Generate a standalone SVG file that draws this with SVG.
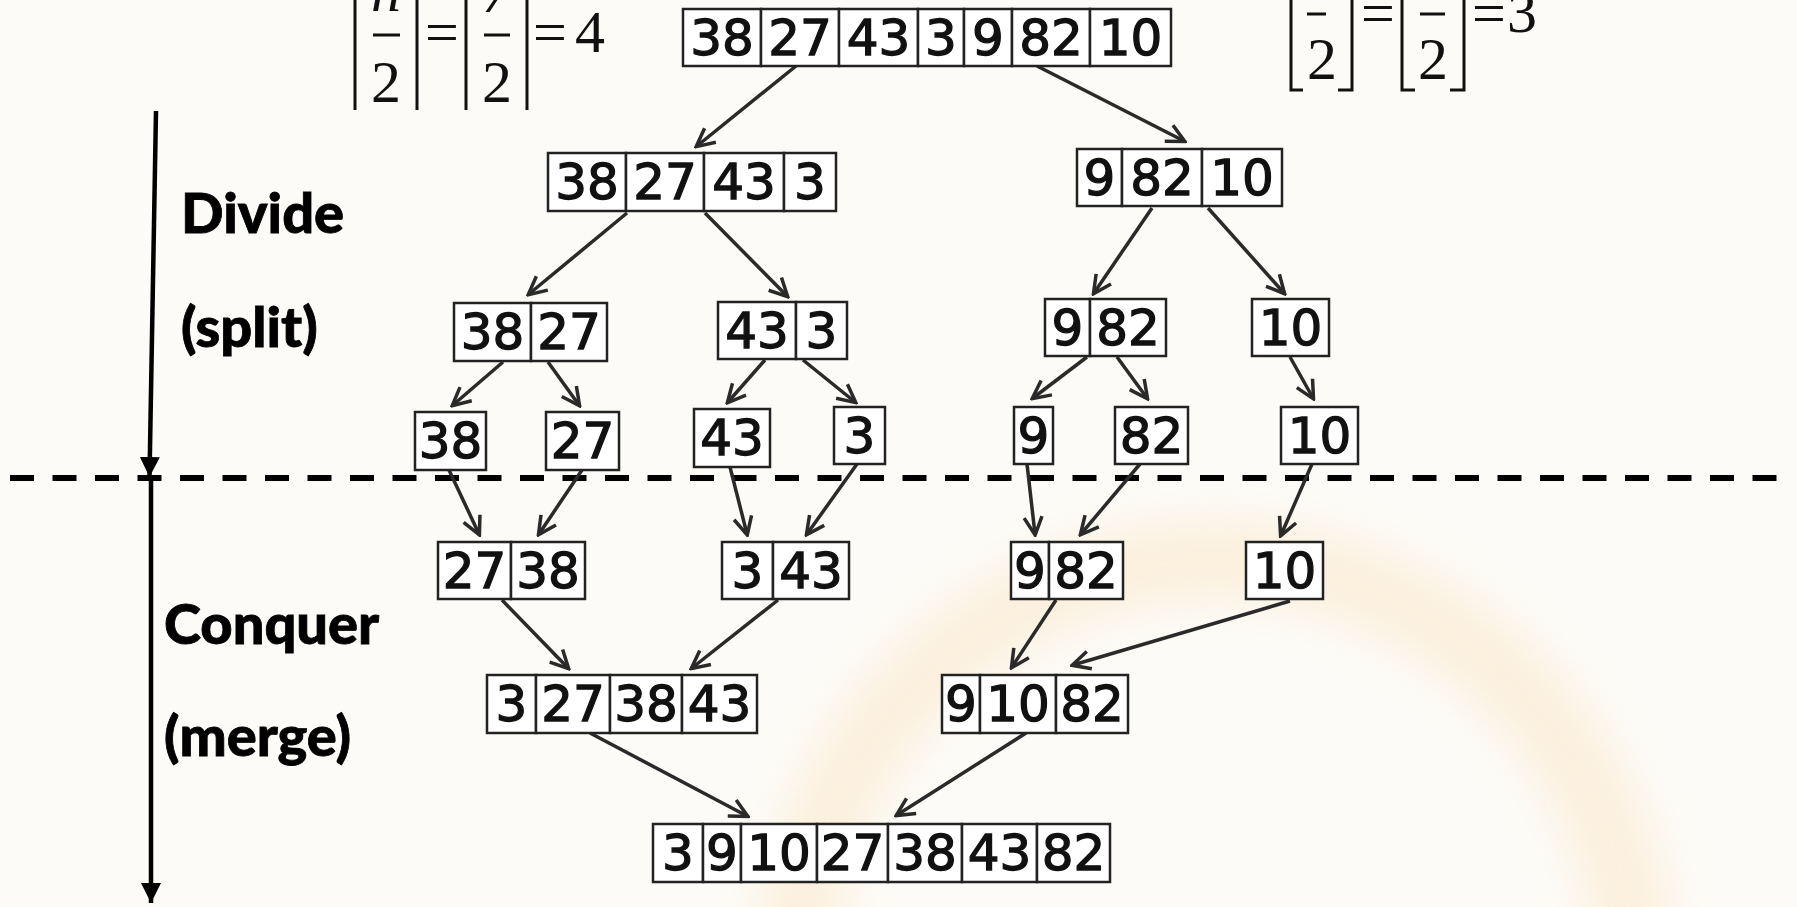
<svg xmlns="http://www.w3.org/2000/svg" width="1797" height="907" viewBox="0 0 1797 907">
<defs>
<style>
.c{fill:#ffffff;stroke:#222;stroke-width:2.5}
.n{font-family:"DejaVu Sans",sans-serif;font-size:50px;fill:#111;stroke:#111;stroke-width:1.3;text-anchor:middle}
.lbl{font-family:Lato,"Open Sans",sans-serif;font-weight:900;font-size:56px;fill:#000;stroke:#000;stroke-width:0.8}
.m{font-family:"Liberation Serif",serif;font-size:60px;fill:#111;text-anchor:middle}
.br{stroke:#111;stroke-width:3;fill:none}
.a{stroke:#2a2a2a;stroke-width:3.5;fill:none;marker-end:url(#ah)}
.va{stroke:#000;stroke-width:4.5;fill:none;marker-end:url(#vh)}
</style>
<marker id="ah" viewBox="0 0 22 22" refX="19" refY="11" markerWidth="22" markerHeight="22" markerUnits="userSpaceOnUse" orient="auto">
<path d="M2,2 L20,11 L2,20" fill="none" stroke="#2a2a2a" stroke-width="3.5"/>
</marker>
<marker id="vh" viewBox="0 0 20 20" refX="20" refY="10" markerWidth="20" markerHeight="20" markerUnits="userSpaceOnUse" orient="auto">
<path d="M0,0 L20,10 L0,20 z" fill="#000"/>
</marker>
<filter id="blur" x="-20%" y="-20%" width="140%" height="140%"><feGaussianBlur stdDeviation="22"/></filter>
</defs>
<rect width="1797" height="907" fill="#fcfbf7"/>
<circle cx="1215" cy="980" r="420" fill="none" stroke="#fbe2bd" stroke-width="80" opacity="0.45" filter="url(#blur)"/>

<g id="formula-left">
<line class="br" x1="355" y1="-5" x2="355" y2="110"/>
<line class="br" x1="417" y1="-5" x2="417" y2="110"/>
<line class="br" x1="466" y1="-5" x2="466" y2="110"/>
<line class="br" x1="527" y1="-5" x2="527" y2="110"/>
<line class="br" x1="373" y1="35" x2="400" y2="35"/>
<line class="br" x1="484" y1="35" x2="510" y2="35"/>
<text class="m" x="386" y="11" font-style="italic">n</text>
<text class="m" x="386" y="102">2</text>
<text class="m" x="442" y="52">=</text>
<text class="m" x="497" y="12" font-style="italic">7</text>
<text class="m" x="497" y="102">2</text>
<text class="m" x="550" y="52">=</text>
<text class="m" x="590" y="52">4</text>
</g>

<g id="formula-right">
<path class="br" d="M1291,-5 V90 H1303"/>
<path class="br" d="M1352,-5 V90 H1338"/>
<path class="br" d="M1402,-5 V90 H1415"/>
<path class="br" d="M1464,-5 V90 H1450"/>
<line class="br" x1="1307" y1="14" x2="1326" y2="14"/>
<line class="br" x1="1420" y1="14" x2="1445" y2="14"/>
<text class="m" x="1322" y="79" font-size="55">2</text>
<text class="m" x="1433" y="79" font-size="55">2</text>
<text class="m" x="1378" y="33" font-size="55">=</text>
<text class="m" x="1489" y="33" font-size="55">=</text>
<text class="m" x="1522" y="32" font-size="55">3</text>
</g>

<g id="labels">
<text class="lbl" x="181" y="233">Divide</text>
<text class="lbl" x="181" y="347">(split)</text>
<text class="lbl" x="164" y="644">Conquer</text>
<text class="lbl" x="164" y="756">(merge)</text>
</g>

<g id="phase-axis">
<line x1="0" y1="478" x2="1790" y2="478" stroke="#000" stroke-width="6" stroke-dasharray="24 18.5" stroke-dashoffset="-10"/>
<line class="va" x1="156" y1="111" x2="149.5" y2="477"/>
<line class="va" x1="151" y1="481" x2="151" y2="903"/>
</g>

<g id="connectors">
<line class="a" x1="796" y1="66" x2="697" y2="146"/>
<line class="a" x1="1037" y1="66" x2="1184" y2="141"/>
<line class="a" x1="627" y1="213" x2="529" y2="294"/>
<line class="a" x1="705" y1="213" x2="787" y2="296"/>
<line class="a" x1="1152" y1="208" x2="1094" y2="293"/>
<line class="a" x1="1208" y1="208" x2="1284" y2="293"/>
<line class="a" x1="503" y1="362" x2="453" y2="405"/>
<line class="a" x1="548" y1="362" x2="579" y2="405"/>
<line class="a" x1="765" y1="360" x2="728" y2="402"/>
<line class="a" x1="803" y1="360" x2="855" y2="402"/>
<line class="a" x1="1087" y1="357" x2="1033" y2="398"/>
<line class="a" x1="1117" y1="357" x2="1147" y2="398"/>
<line class="a" x1="1290" y1="357" x2="1313" y2="398"/>
<line class="a" x1="449" y1="470" x2="479" y2="534"/>
<line class="a" x1="582" y1="470" x2="539" y2="534"/>
<line class="a" x1="730" y1="467" x2="747" y2="534"/>
<line class="a" x1="857" y1="464" x2="807" y2="534"/>
<line class="a" x1="1027" y1="464" x2="1035" y2="534"/>
<line class="a" x1="1140" y1="464" x2="1081" y2="534"/>
<line class="a" x1="1312" y1="464" x2="1281" y2="535"/>
<line class="a" x1="502" y1="600" x2="568" y2="668"/>
<line class="a" x1="778" y1="600" x2="692" y2="668"/>
<line class="a" x1="1056" y1="600" x2="1012" y2="667"/>
<line class="a" x1="1290" y1="601" x2="1073" y2="665"/>
<line class="a" x1="590" y1="733" x2="747" y2="816"/>
<line class="a" x1="1026" y1="733" x2="897" y2="815"/>
</g>

<g id="n-top">
<rect class="c" x="683" y="9" width="78" height="57"/><text class="n" x="722" y="55">38</text>
<rect class="c" x="761" y="9" width="78" height="57"/><text class="n" x="800" y="55">27</text>
<rect class="c" x="839" y="9" width="79" height="57"/><text class="n" x="878.5" y="55">43</text>
<rect class="c" x="918" y="9" width="46" height="57"/><text class="n" x="941" y="55">3</text>
<rect class="c" x="964" y="9" width="48" height="57"/><text class="n" x="988" y="55">9</text>
<rect class="c" x="1012" y="9" width="78" height="57"/><text class="n" x="1051" y="55">82</text>
<rect class="c" x="1090" y="9" width="81" height="57"/><text class="n" x="1130.5" y="55">10</text>
</g>

<g id="n-l2-left">
<rect class="c" x="548" y="153" width="78" height="58"/><text class="n" x="587" y="199">38</text>
<rect class="c" x="626" y="153" width="78" height="58"/><text class="n" x="665" y="199">27</text>
<rect class="c" x="704" y="153" width="80" height="58"/><text class="n" x="744" y="199">43</text>
<rect class="c" x="784" y="153" width="52" height="58"/><text class="n" x="810" y="199">3</text>
</g>

<g id="n-l2-right">
<rect class="c" x="1077" y="149" width="45" height="57"/><text class="n" x="1099.5" y="195">9</text>
<rect class="c" x="1122" y="149" width="80" height="57"/><text class="n" x="1162" y="195">82</text>
<rect class="c" x="1202" y="149" width="80" height="57"/><text class="n" x="1242" y="195">10</text>
</g>

<g id="n-l3-a">
<rect class="c" x="454" y="303" width="77" height="58"/><text class="n" x="492.5" y="349">38</text>
<rect class="c" x="531" y="303" width="76" height="58"/><text class="n" x="569" y="349">27</text>
</g>
<g id="n-l3-b">
<rect class="c" x="718" y="302" width="78" height="57"/><text class="n" x="757" y="348">43</text>
<rect class="c" x="796" y="302" width="51" height="57"/><text class="n" x="821.5" y="348">3</text>
</g>
<g id="n-l3-c">
<rect class="c" x="1045" y="299" width="45" height="57"/><text class="n" x="1067.5" y="345">9</text>
<rect class="c" x="1090" y="299" width="76" height="57"/><text class="n" x="1128" y="345">82</text>
</g>
<g id="n-l3-d">
<rect class="c" x="1252" y="299" width="77" height="57"/><text class="n" x="1290.5" y="345">10</text>
</g>

<g id="n-l4-38"><rect class="c" x="415" y="412" width="71" height="58"/><text class="n" x="450.5" y="458">38</text></g>
<g id="n-l4-27"><rect class="c" x="546" y="412" width="73" height="58"/><text class="n" x="582.5" y="458">27</text></g>
<g id="n-l4-43"><rect class="c" x="694" y="409" width="76" height="58"/><text class="n" x="732" y="455">43</text></g>
<g id="n-l4-3"><rect class="c" x="834" y="407" width="51" height="57"/><text class="n" x="859.5" y="453">3</text></g>
<g id="n-l4-9"><rect class="c" x="1014" y="407" width="39" height="57"/><text class="n" x="1033.5" y="453">9</text></g>
<g id="n-l4-82"><rect class="c" x="1115" y="407" width="73" height="57"/><text class="n" x="1151.5" y="453">82</text></g>
<g id="n-l4-10"><rect class="c" x="1281" y="407" width="77" height="57"/><text class="n" x="1319.5" y="453">10</text></g>

<g id="n-l5-a">
<rect class="c" x="438" y="542" width="73" height="57"/><text class="n" x="474.5" y="588">27</text>
<rect class="c" x="511" y="542" width="74" height="57"/><text class="n" x="548" y="588">38</text>
</g>
<g id="n-l5-b">
<rect class="c" x="722" y="542" width="51" height="57"/><text class="n" x="747.5" y="588">3</text>
<rect class="c" x="773" y="542" width="76" height="57"/><text class="n" x="811" y="588">43</text>
</g>
<g id="n-l5-c">
<rect class="c" x="1011" y="542" width="38" height="57"/><text class="n" x="1030" y="588">9</text>
<rect class="c" x="1049" y="542" width="74" height="57"/><text class="n" x="1086" y="588">82</text>
</g>
<g id="n-l5-d">
<rect class="c" x="1246" y="542" width="77" height="57"/><text class="n" x="1284.5" y="588">10</text>
</g>

<g id="n-l6-a">
<rect class="c" x="487" y="675" width="49" height="58"/><text class="n" x="511.5" y="721">3</text>
<rect class="c" x="536" y="675" width="74" height="58"/><text class="n" x="573" y="721">27</text>
<rect class="c" x="610" y="675" width="72" height="58"/><text class="n" x="646" y="721">38</text>
<rect class="c" x="682" y="675" width="75" height="58"/><text class="n" x="719.5" y="721">43</text>
</g>
<g id="n-l6-b">
<rect class="c" x="942" y="675" width="38" height="58"/><text class="n" x="961" y="721">9</text>
<rect class="c" x="980" y="675" width="76" height="58"/><text class="n" x="1018" y="721">10</text>
<rect class="c" x="1056" y="675" width="72" height="58"/><text class="n" x="1092" y="721">82</text>
</g>

<g id="n-final">
<rect class="c" x="653" y="824" width="50" height="58"/><text class="n" x="678" y="870">3</text>
<rect class="c" x="703" y="824" width="38" height="58"/><text class="n" x="722" y="870">9</text>
<rect class="c" x="741" y="824" width="76" height="58"/><text class="n" x="779" y="870">10</text>
<rect class="c" x="817" y="824" width="71" height="58"/><text class="n" x="852.5" y="870">27</text>
<rect class="c" x="888" y="824" width="74" height="58"/><text class="n" x="925" y="870">38</text>
<rect class="c" x="962" y="824" width="75" height="58"/><text class="n" x="999.5" y="870">43</text>
<rect class="c" x="1037" y="824" width="73" height="58"/><text class="n" x="1073.5" y="870">82</text>
</g>
</svg>
